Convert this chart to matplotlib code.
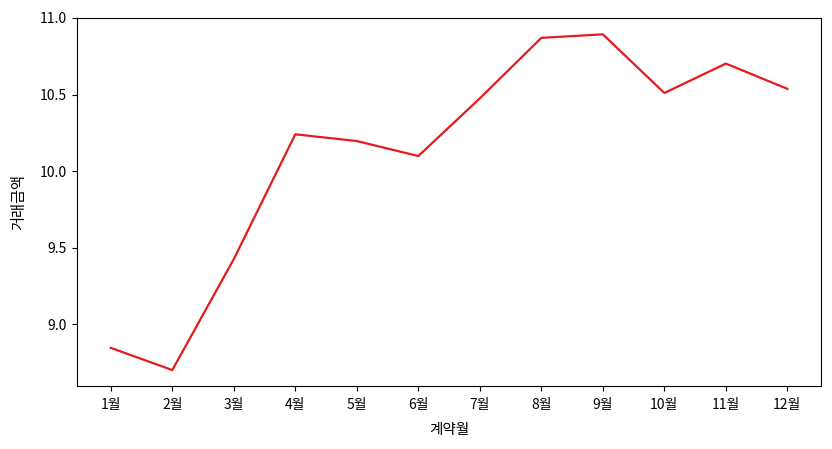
import matplotlib
matplotlib.use("Agg")
import matplotlib.pyplot as plt

plt.rcParams['font.family'] = ['Noto Sans CJK KR', 'DejaVu Sans']

months = ['1월', '2월', '3월', '4월', '5월', '6월', '7월', '8월', '9월', '10월', '11월', '12월']
values = [8.845, 8.70, 9.425, 10.24, 10.196, 10.098, 10.475, 10.87, 10.893, 10.51, 10.702, 10.537]

fig = plt.figure(figsize=(8.32, 4.49), dpi=100)
ax = fig.add_axes([0.0925, 0.140, 0.8945, 0.820])
ax.plot(months, values, color='#e41a1c', linewidth=1.6)
ax.set_ylim(8.595, 11.0)
ax.set_yticks([9.0, 9.5, 10.0, 10.5, 11.0])
ax.set_xlabel('계약월', fontsize=10.5, labelpad=8)
ax.set_ylabel('거래금액', fontsize=11, labelpad=9)
ax.tick_params(axis='x', labelsize=10, pad=5)
ax.tick_params(axis='y', labelsize=10)
fig.savefig('out.png', dpi=100)
